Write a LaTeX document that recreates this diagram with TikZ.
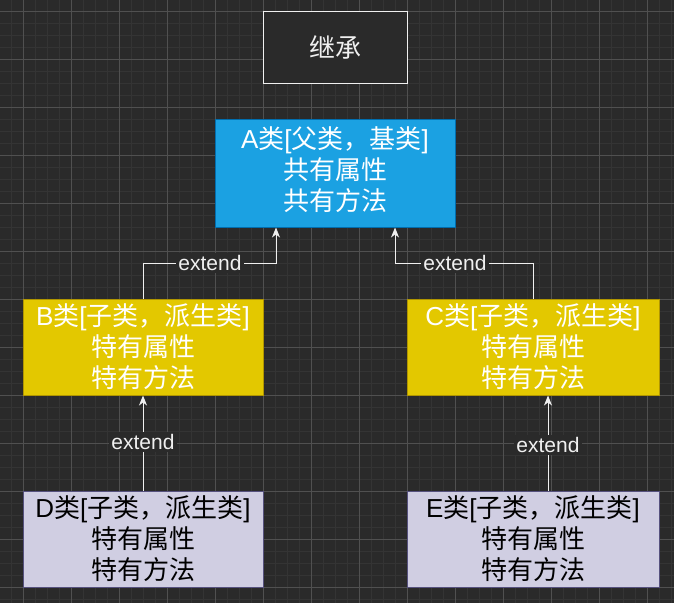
\documentclass[tikz,border=0pt]{standalone}
\usepackage{fontspec}
\setmainfont{Liberation Sans}
\newfontfamily\zh{Noto Sans CJK SC}
\usetikzlibrary{arrows.meta}
\definecolor{bgc}{HTML}{2A2A2A}
\definecolor{gminor}{HTML}{343434}
\definecolor{gmajor}{HTML}{505050}
\definecolor{linec}{HTML}{F0F0F0}
\definecolor{afill}{HTML}{1BA1E2}
\definecolor{aline}{HTML}{006EAF}
\definecolor{yfill}{HTML}{E3C800}
\definecolor{yline}{HTML}{B09500}
\definecolor{pfill}{HTML}{D0CEE2}
\definecolor{pline}{HTML}{56517E}
\tikzset{
  box/.style={rectangle, inner sep=0pt, align=center, line width=1pt,
    font=\fontsize{26}{31}\selectfont},
  bluebox/.style={box, draw=aline, fill=afill, text=white, minimum width=240pt, minimum height=108pt},
  yelbox/.style={box, draw=yline, fill=yfill, text=white, minimum height=96pt},
  purbox/.style={box, draw=pline, fill=pfill, text=black, minimum height=96pt},
  titlebox/.style={rectangle, draw=linec, fill=bgc, line width=1pt, text=linec,
    minimum width=144pt, minimum height=72pt, font=\fontsize{26}{30}\selectfont\zh},
  conn/.style={draw=linec, line width=1pt, -{Stealth[length=10pt,width=8pt,inset=3pt]}},
  lbl/.style={fill=bgc, text=linec, inner sep=2pt, font=\fontsize{21}{24}\selectfont}
}
\begin{document}
\begin{tikzpicture}[x=1pt,y=-1pt]
\useasboundingbox (0,0) rectangle (674,603);
\fill[bgc] (0,0) rectangle (674,603);
\foreach \i in {0,...,56} {\draw[gminor, line width=1pt] (11+12*\i,0) -- (11+12*\i,603);}
\foreach \i in {0,...,50} {\draw[gminor, line width=1pt] (0,11+12*\i) -- (674,11+12*\i);}
\foreach \i in {0,...,13} {\draw[gmajor, line width=1pt] (23+48*\i,0) -- (23+48*\i,603);}
\foreach \i in {0,...,12} {\draw[gmajor, line width=1pt] (0,11+48*\i) -- (674,11+48*\i);}

\node[titlebox] (t) at (335,47) {继承};
\node[bluebox] (a) at (335,173) {\raisebox{-2pt}{\begin{tabular}{@{}c@{}}A{\zh 类}[{\zh 父类，基类}]\\{\zh 共有属性}\\{\zh 共有方法}\end{tabular}}};
\node[yelbox, minimum width=240pt] (b) at (143,347) {B{\zh 类}[{\zh 子类，派生类}]\\{\zh 特有属性}\\{\zh 特有方法}};
\node[yelbox, minimum width=252pt] (c) at (533,347) {C{\zh 类}[{\zh 子类，派生类}]\\{\zh 特有属性}\\{\zh 特有方法}};
\node[purbox, minimum width=240pt] (d) at (143,539) {D{\zh 类}[{\zh 子类，派生类}]\\{\zh 特有属性}\\{\zh 特有方法}};
\node[purbox, minimum width=252pt] (e) at (533,539) {E{\zh 类}[{\zh 子类，派生类}]\\{\zh 特有属性}\\{\zh 特有方法}};

\coordinate (ba1) at (143,263);
\coordinate (ba2) at (276,263);
\coordinate (ca1) at (533,263);
\coordinate (ca2) at (395,263);
\draw[conn] (b.north) -- (ba1) -- (ba2) -- (ba2 |- a.south);
\draw[conn] (c.north) -- (ca1) -- (ca2) -- (ca2 |- a.south);
\draw[conn] (d.north) -- (b.south);
\coordinate (ec) at (548,491);
\draw[conn] (ec) -- (ec |- c.south);
\node[lbl] (l1) at (210,263) {extend};
\node[lbl] (l2) at (455,263) {extend};
\node[lbl] (l3) at (143,442) {extend};
\node[lbl] (l4) at (548,445) {extend};
\end{tikzpicture}
\end{document}
